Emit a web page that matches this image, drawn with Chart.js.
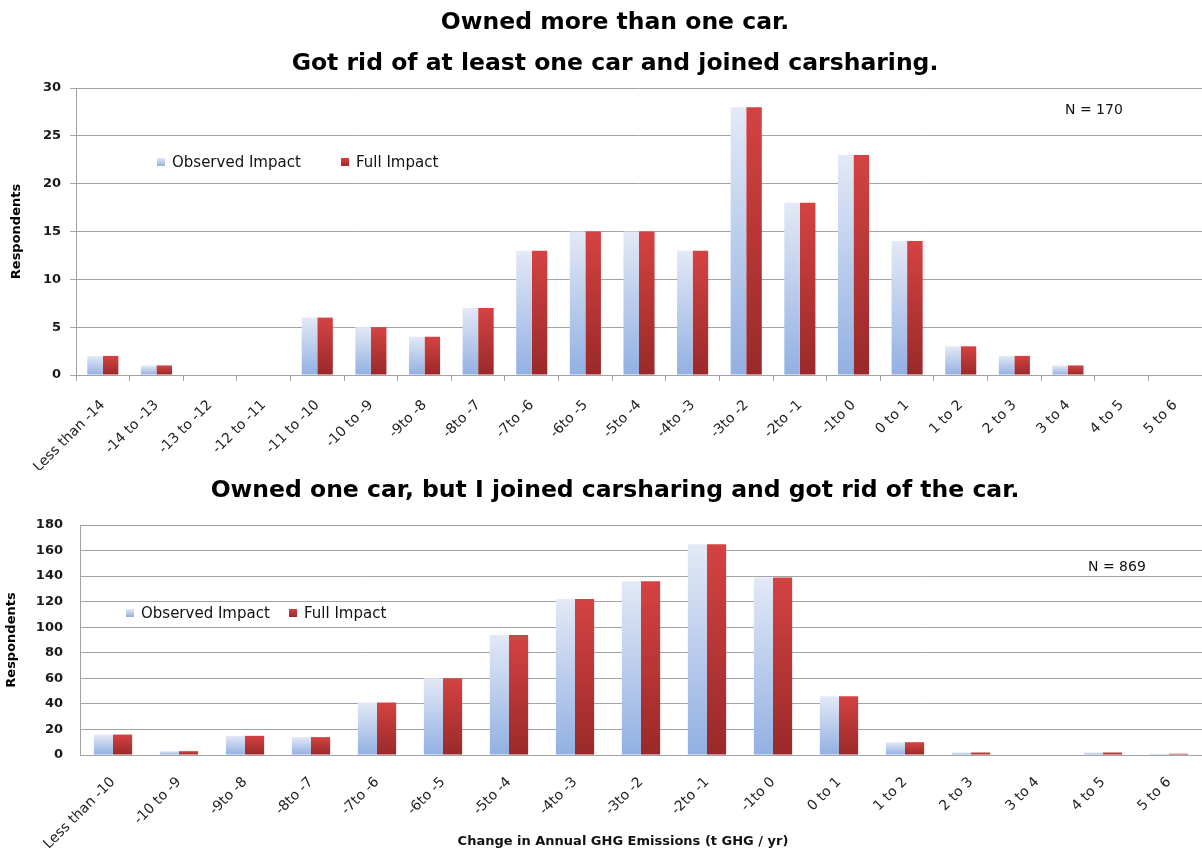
<!DOCTYPE html>
<html><head><meta charset="utf-8">
<script src="https://cdn.jsdelivr.net/npm/chart.js@4"></script>
<style>
html,body{margin:0;padding:0;background:#fff;}
#wrap{position:relative;width:1202px;height:851px;overflow:hidden;}
#c1{position:absolute;left:0;top:0;}
#c2{position:absolute;left:0;top:470px;}
</style></head><body>
<div id="wrap">
<canvas id="c1" width="1202" height="470"></canvas>
<canvas id="c2" width="1202" height="381"></canvas>
</div>
<script>
// ---------- DATA ----------
const topTitleLines = ["Owned more than one car.", "Got rid of at least one car and joined carsharing."];
const topCategories = ["Less than -14","-14 to -13","-13 to -12","-12 to -11","-11 to -10","-10 to -9","-9to -8","-8to -7","-7to -6","-6to -5","-5to -4","-4to -3","-3to -2","-2to -1","-1to 0","0 to 1","1 to 2","2 to 3","3 to 4","4 to 5","5 to 6"];
const topObserved = [2,1,0,0,6,5,4,7,13,15,15,13,28,18,23,14,3,2,1,0,0];
const topFull     = [2,1,0,0,6,5,4,7,13,15,15,13,28,18,23,14,3,2,1,0,0];
const topN = "N = 170";

const botTitleLines = ["Owned one car, but I joined carsharing and got rid of the car."];
const botCategories = ["Less than -10","-10 to -9","-9to -8","-8to -7","-7to -6","-6to -5","-5to -4","-4to -3","-3to -2","-2to -1","-1to 0","0 to 1","1 to 2","2 to 3","3 to 4","4 to 5","5 to 6"];
const botObserved = [16,3,15,14,41,60,94,122,136,165,139,46,10,2,0,2,1];
const botFull     = [16,3,15,14,41,60,94,122,136,165,139,46,10,2,0,2,1];
const botN = "N = 869";

const seriesNames = ["Observed Impact", "Full Impact"];
const yLabel = "Respondents";
const xLabel = "Change in Annual GHG Emissions (t GHG / yr)";

// ---------- STYLE ----------
const BLUE = ["#e3e9f6", "#92b0e2"];
const RED  = ["#d54242", "#9a2929"];
const GRID = "#a3a3a3";

function barGradient(cols) {
  return (ctx) => {
    const chart = ctx.chart;
    const y = chart.scales && chart.scales.y;
    if (!chart.chartArea || ctx.type !== 'data' || !y) return cols[1];
    const v = ctx.parsed ? ctx.parsed.y : ctx.raw;
    const t = y.getPixelForValue(v), b = y.getPixelForValue(0);
    if (!isFinite(t) || !isFinite(b) || t === b) return cols[1];
    const g = chart.ctx.createLinearGradient(0, t, 0, b);
    g.addColorStop(0, cols[0]); g.addColorStop(1, cols[1]);
    return g;
  };
}

const overlay = {
  id: 'overlay',
  afterDraw(chart, args, o) {
    const c = chart.ctx;
    c.save();
    c.fillStyle = '#000';
    c.textAlign = 'center'; c.textBaseline = 'middle';
    c.font = o.titleFont;
    o.titles.forEach((t, i) => c.fillText(t, o.titleX, o.titleY[i]));
    if (o.xTitle) {
      c.font = o.xTitleFont; c.fillStyle = '#111';
      c.fillText(o.xTitle, o.xTitleX, o.xTitleY);
    }
    // legend
    c.font = o.legendFont; c.textAlign = 'left';
    chart.data.datasets.forEach((ds, i) => {
      const x = o.legendX[i], y = o.legendY, s = 8;
      const cols = i === 0 ? BLUE : RED;
      const g = c.createLinearGradient(0, y - s/2, 0, y + s/2);
      g.addColorStop(0, cols[0]); g.addColorStop(1, cols[1]);
      c.fillStyle = g;
      c.fillRect(x, y - s/2, s, s);
      c.fillStyle = '#111';
      c.fillText(ds.label, x + 15, y + 1);
    });
    c.font = o.nFont;
    c.fillText(o.nText, o.nX, o.nY);
    c.restore();
  }
};

function makeChart(el, cats, obs, full, cfg) {
  return new Chart(document.getElementById(el), {
    type: 'bar',
    data: {
      labels: cats,
      datasets: [
        {label: seriesNames[0], data: obs, backgroundColor: barGradient(BLUE), borderWidth: 0, categoryPercentage: 0.58, barPercentage: 1.0},
        {label: seriesNames[1], data: full, backgroundColor: barGradient(RED), borderWidth: 0, categoryPercentage: 0.58, barPercentage: 1.0}
      ]
    },
    options: {
      responsive: false, animation: false,
      layout: {padding: {top: cfg.padTop, left: 0, right: 0, bottom: 0}},
      plugins: {
        legend: {display: false}, tooltip: {enabled: false}, title: {display: false},
        overlay: cfg.overlay
      },
      scales: {
        x: {
          offset: true,
          grid: {display: true, drawOnChartArea: false, drawTicks: cfg.xTicks, tickLength: 6, color: GRID, offset: true},
          border: {display: true, color: GRID, width: 1},
          ticks: {autoSkip: false, minRotation: 45, maxRotation: 45, padding: cfg.xPad, color: '#222', font: {family: 'DejaVu Sans', size: 14}},
          title: {display: false},
          afterFit: (s) => { s.height = cfg.xHeight; s.paddingLeft = 0; s.paddingRight = 0; }
        },
        y: {
          min: 0, max: cfg.yMax,
          grid: {color: GRID, lineWidth: 1, drawTicks: cfg.yTicks, tickLength: 6},
          border: {display: true, color: GRID, width: 1},
          ticks: {stepSize: cfg.yStep, padding: cfg.yPad, color: '#1a1a1a', font: {family: 'DejaVu Sans', size: 13, weight: 'bold'}},
          title: {display: true, text: yLabel, color: '#000', font: {family: 'DejaVu Sans', size: 13, weight: 'bold'}, padding: {top: cfg.yTitlePad, bottom: 0}},
          afterFit: (s) => { s.width = cfg.yWidth; }
        }
      }
    },
    plugins: [overlay]
  });
}

makeChart('c1', topCategories, topObserved, topFull, {
  padTop: 88, yMax: 30, yStep: 5, yPad: 9, yTicks: true, yWidth: 76, yTitlePad: 9,
  xTicks: true, xHeight: 95, xPad: 16,
  overlay: {
    titles: topTitleLines, titleX: 615, titleY: [23, 64], titleFont: 'bold 23.5px "DejaVu Sans"',
    legendX: [157, 341], legendY: 162, legendFont: '15px "DejaVu Sans"',
    nText: topN, nX: 1065, nY: 110, nFont: '14px "DejaVu Sans"'
  }
});

makeChart('c2', botCategories, botObserved, botFull, {
  padTop: 55, yMax: 180, yStep: 20, yPad: 17, yTicks: false, yWidth: 80, yTitlePad: 4,
  xTicks: false, xHeight: 96, xPad: 19,
  overlay: {
    titles: botTitleLines, titleX: 615, titleY: [21], titleFont: 'bold 23.5px "DejaVu Sans"',
    xTitle: xLabel, xTitleX: 623, xTitleY: 372, xTitleFont: 'bold 13px "DejaVu Sans"',
    legendX: [126, 289], legendY: 143, legendFont: '15px "DejaVu Sans"',
    nText: botN, nX: 1088, nY: 97, nFont: '14px "DejaVu Sans"'
  }
});
</script>
</body></html>
